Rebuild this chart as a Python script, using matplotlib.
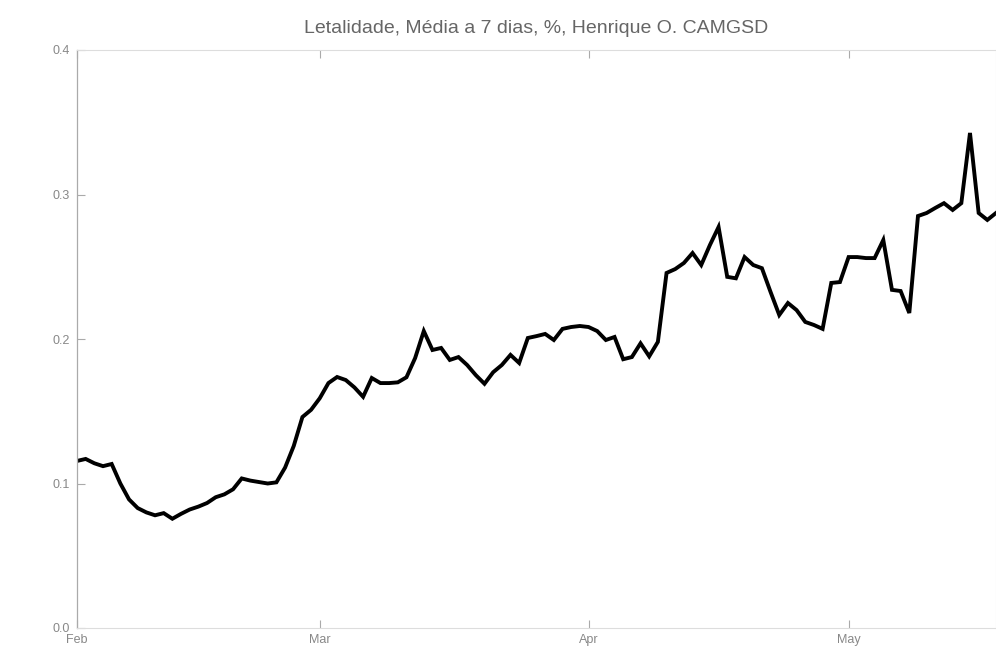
import numpy as np
import pandas as pd
import matplotlib
matplotlib.use("Agg")
import matplotlib.pyplot as plt
import matplotlib.dates as mdates

# 7-day rolling lethality (%), one value per day from 1 Feb 2021
start_date = "2021-02-01"
lethality = [
    0.1156, 0.117, 0.114, 0.112, 0.1135, 0.100, 0.089, 0.083, 0.080, 0.078,
    0.0795, 0.0756, 0.079, 0.082, 0.084, 0.0865, 0.0905, 0.0925, 0.096, 0.1035,
    0.102, 0.101, 0.100, 0.1008, 0.111, 0.126, 0.146, 0.151, 0.159, 0.1695,
    0.1737, 0.1716, 0.1665, 0.160, 0.173, 0.1695, 0.1695, 0.170, 0.1735, 0.1868,
    0.2055, 0.1924, 0.1938, 0.1855, 0.1875, 0.182, 0.175, 0.169, 0.177, 0.182,
    0.189, 0.1834, 0.2007, 0.202, 0.2035, 0.1993, 0.207, 0.2083, 0.209, 0.2083,
    0.2055, 0.1993, 0.2014, 0.186, 0.1875, 0.197, 0.188, 0.198, 0.2457, 0.2484,
    0.2526, 0.2595, 0.2512, 0.265, 0.2775, 0.243, 0.242, 0.2567, 0.2512, 0.249,
    0.2325, 0.2166, 0.2249, 0.220, 0.2118, 0.2097, 0.207, 0.2388, 0.2394, 0.2567,
    0.2567, 0.256, 0.256, 0.2685, 0.234, 0.2332, 0.218, 0.2851, 0.2872, 0.2907,
    0.294, 0.2893, 0.294, 0.3426, 0.2872, 0.2824, 0.2872,
]
y_ticks = [0.0, 0.1, 0.2, 0.3, 0.4]
title = "Letalidade, Média a 7 dias, %, Henrique O. CAMGSD"

dates = pd.date_range(start_date, periods=len(lethality), freq="D")

plt.rcParams["font.family"] = ["Liberation Sans", "DejaVu Sans"]

fig = plt.figure(figsize=(9.96, 6.47), dpi=100)
ax = fig.add_axes([77 / 996, 19 / 647, 919 / 996, 578 / 647])

ax.plot(dates, lethality, color="black", linewidth=2.8, solid_joinstyle="miter")

ax.set_xlim(dates[0], dates[-1])
ax.set_ylim(0, 0.4)
ax.set_yticks(y_ticks)
ax.yaxis.set_major_formatter(plt.FormatStrFormatter("%.1f"))
ax.xaxis.set_major_locator(mdates.MonthLocator())
ax.xaxis.set_major_formatter(mdates.DateFormatter("%b"))

ax.tick_params(direction="in", top=True, right=False, length=6, width=0.8,
               colors="#aaaaaa", labelcolor="#888888", labelsize=9, pad=5)
ax.tick_params(axis="x", pad=4)
for side in ["bottom", "top", "right"]:
    ax.spines[side].set_color("#dddddd")
    ax.spines[side].set_linewidth(0.8)
ax.spines["left"].set_color("#aaaaaa")
ax.spines["left"].set_linewidth(0.9)

ax.set_title(title, fontsize=14, color="#666666", pad=12)

fig.savefig("out.png", dpi=100)
